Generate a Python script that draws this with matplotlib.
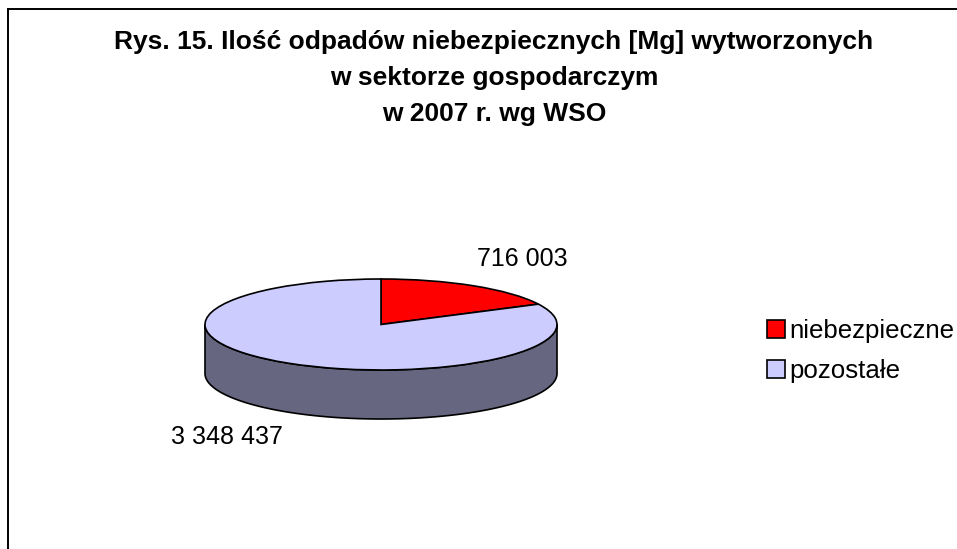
import numpy as np
import matplotlib.pyplot as plt
from matplotlib.patches import Polygon
from matplotlib.lines import Line2D

plt.rcParams['font.family'] = ['Liberation Sans', 'DejaVu Sans']

title = 'Rys. 15. Ilość odpadów niebezpiecznych [Mg] wytworzonych\nw sektorze gospodarczym\nw 2007 r. wg WSO'
labels = ['niebezpieczne', 'pozostałe']
values = [716003, 3348437]
colors = ['#FF0000', '#CCCCFF']
side_color = '#666680'

W, H = 957, 549
fig = plt.figure(figsize=(W / 100, H / 100), dpi=100)


def rect(x0, y0, x1, y1):
    # image pixels (top-left origin) -> figure fraction rect
    return [x0 / W, 1 - y1 / H, (x1 - x0) / W, (y1 - y0) / H]


# pie: centre (381, 324.5) px, rx 176, ry 45.5, depth 49
cx, cy, rx, ry, depth = 381, 324.5, 176, 45.5, 49
ax = fig.add_axes(rect(191, 270, 571, 440))
d = depth / ry

# side wall of the front half
t = np.linspace(np.pi, 2 * np.pi, 200)
top = np.column_stack([np.cos(t), np.sin(t)])
bot = np.column_stack([np.cos(t[::-1]), np.sin(t[::-1]) - d])
ax.add_patch(Polygon(np.vstack([top, bot]), closed=True, facecolor=side_color,
                     edgecolor='black', linewidth=1.2, zorder=1))

wedges, _ = ax.pie(values, colors=colors, startangle=90, counterclock=False,
                   wedgeprops=dict(edgecolor='black', linewidth=1.2, zorder=2))
ax.set_aspect('auto')
ax.set_xlim(-(cx - 191) / rx, (571 - cx) / rx)
ax.set_ylim(-(440 - cy) / ry, (cy - 270) / ry)
ax.axis('off')

# data labels
def fmt(v):
    return f'{v:,}'.replace(',', ' ')

fig.text(522 / W, 1 - 259 / H, fmt(values[0]), ha='center', va='center', fontsize=18)
fig.text(227 / W, 1 - 437.5 / H, fmt(values[1]), ha='center', va='center', fontsize=18)

fig.text(494 / W, 1 - 30 / H, title, ha='center', va='top', fontsize=19,
         fontweight='bold', linespacing=1.64)

fig.legend(wedges, labels, loc='center left', bbox_to_anchor=(767 / W, 1 - 351 / H),
           frameon=False, fontsize=18.6, handlelength=0.7, handleheight=0.7,
           handletextpad=0.15, labelspacing=0.64, borderpad=0, borderaxespad=0)

# chart area border (only top and left visible)
fig.add_artist(Line2D([8 / W, 8 / W], [0, 1 - 9 / H], color='black', linewidth=1.4))
fig.add_artist(Line2D([8 / W, 1], [1 - 9 / H, 1 - 9 / H], color='black', linewidth=1.4))

fig.savefig('out.png', dpi=100)
